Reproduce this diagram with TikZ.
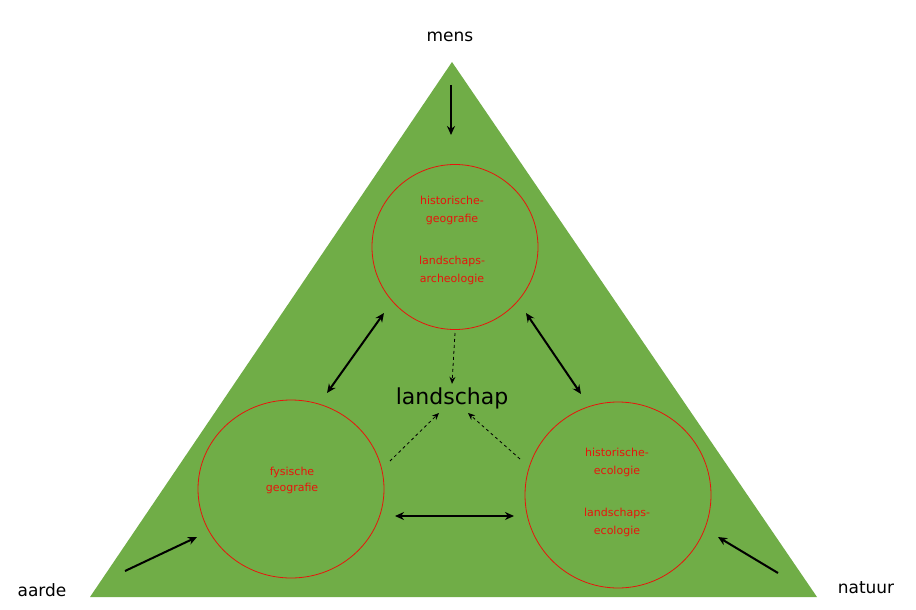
\documentclass[tikz,border=0pt]{standalone}
\usepackage{fontspec}
\setmainfont{DejaVu Sans}
\usetikzlibrary{arrows.meta,shapes.geometric}
\definecolor{grn}{HTML}{70AD47}
\definecolor{rd}{HTML}{E8140C}
\begin{document}
\begin{tikzpicture}[x=1pt,y=-1pt,
  circ/.style={ellipse,draw=rd,line width=0.8pt,inner sep=0pt},
  rtxt/.style={text=rd,font=\fontsize{11}{14}\selectfont,align=center},
  lbl/.style={font=\fontsize{17}{20}\selectfont},
  arr/.style={line width=2pt,-{Stealth[length=9pt,width=8pt]}},
  darr/.style={line width=2pt,{Stealth[length=9pt,width=8pt]}-{Stealth[length=9pt,width=8pt]}},
  dasharr/.style={line width=0.8pt,dashed,-{Stealth[length=7pt,width=6pt]}}]
\useasboundingbox (0,0) rectangle (916,610);
\fill[grn] (452,62) -- (817,597) -- (90,597) -- cycle;
\node[circ,minimum width=166pt,minimum height=165pt] (top) at (455,247) {};
\node[circ,minimum width=186pt,minimum height=178pt] (left) at (291,489) {};
\node[circ,minimum width=186pt,minimum height=186pt] (right) at (618,495) {};
\node[rtxt] (t1) at (452,210) {historische-\\[4pt]geografie};
\node[rtxt] (t2) at (452,270) {landschaps-\\[4pt]archeologie};
\node[rtxt] (l1) at (292,480) {fysische\\[2pt]geografie};
\node[rtxt] (r1) at (617,462) {historische-\\[4pt]ecologie};
\node[rtxt] (r2) at (617,522) {landschaps-\\[4pt]ecologie};
\node[lbl] (mens) at (450,37) {mens};
\node[lbl] (aarde) at (42,590) {aarde};
\node[lbl] (natuur) at (866,588) {natuur};
\node[font=\fontsize{22}{26}\selectfont] (land) at (452,398) {landschap};
\coordinate (m1) at (451,85); \coordinate (m2) at (451,135);
\coordinate (a1) at (125,571); \coordinate (a2) at (197,537);
\coordinate (n1) at (778,573); \coordinate (n2) at (718,537);
\coordinate (tl1) at (384,313); \coordinate (tl2) at (327,393);
\coordinate (tr1) at (526,313); \coordinate (tr2) at (581,394);
\coordinate (b1) at (395,516); \coordinate (b2) at (514,516);
\coordinate (d1) at (455,333); \coordinate (d2) at (390,461); \coordinate (d3) at (520,459);
\coordinate (e2) at (439,413); \coordinate (e3) at (468,413);
\draw[arr] (m1) -- (m2);
\draw[arr] (a1) -- (a2);
\draw[arr] (n1) -- (n2);
\draw[darr] (tl1) -- (tl2);
\draw[darr] (tr1) -- (tr2);
\draw[darr] (b1) -- (b2);
\draw[dasharr] (d1) -- (land.north);
\draw[dasharr] (d2) -- (e2);
\draw[dasharr] (d3) -- (e3);
\end{tikzpicture}
\end{document}
